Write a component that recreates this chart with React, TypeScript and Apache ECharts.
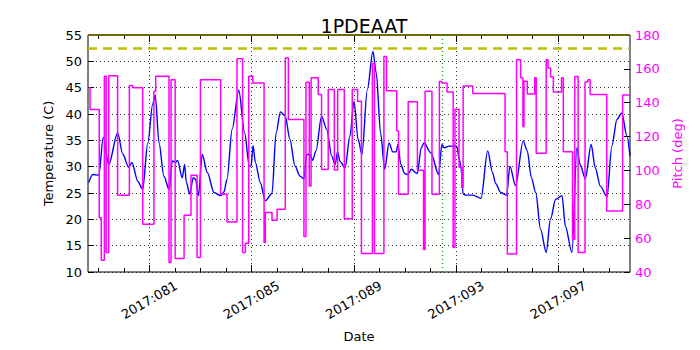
import React, { useEffect, useRef } from "react";
import * as echarts from "echarts";

const FONT = "DejaVu Sans";

// Temperature (blue) — day of year (2017) and degrees C
const tempDays = [78.63, 78.79, 79.02, 79.2, 79.41, 79.76, 79.96, 80.19, 80.32, 80.55, 80.74, 80.94, 81.13, 81.23, 81.38, 81.57, 81.77, 81.9, 82.03, 82.1, 82.29, 82.38, 82.45, 82.58, 82.72, 82.81, 82.92, 83.07, 83.27, 83.53, 83.79, 83.92, 84.04, 84.24, 84.5, 84.73, 84.91, 84.98, 85.06, 85.15, 85.34, 85.54, 85.8, 85.96, 86.13, 86.32, 86.5, 86.7, 86.9, 87.05, 87.16, 87.29, 87.39, 87.52, 87.74, 87.94, 88.14, 88.27, 88.37, 88.46, 88.66, 88.85, 89.01, 89.17, 89.32, 89.53, 89.75, 89.88, 90.05, 90.21, 90.38, 90.53, 90.66, 90.73, 90.84, 90.99, 91.12, 91.25, 91.49, 91.64, 91.75, 92.02, 92.32, 92.45, 92.54, 92.74, 93.03, 93.13, 93.19, 93.28, 93.39, 93.65, 93.98, 94.24, 94.43, 94.55, 94.75, 94.98, 95.11, 95.33, 95.63, 95.79, 95.95, 96.12, 96.31, 96.53, 96.7, 96.9, 97.15, 97.28, 97.54, 97.73, 97.86, 98.06, 98.29, 98.45, 98.65, 98.91, 99.1, 99.3, 99.49, 99.69, 99.81];
const tempValues = [27.0, 28.5, 28.4, 35.6, 30.4, 36.4, 32.4, 29.9, 30.8, 27.2, 25.7, 34.5, 41.8, 43.6, 34.5, 28.2, 25.7, 31.1, 30.8, 31.2, 27.9, 30.4, 27.0, 24.8, 27.9, 27.6, 24.5, 32.3, 28.9, 25.1, 24.5, 25.2, 27.6, 37.1, 44.5, 36.4, 30.1, 30.1, 34.0, 30.8, 27.0, 23.5, 24.9, 36.4, 40.4, 39.6, 35.2, 30.1, 28.2, 27.7, 32.3, 32.3, 31.2, 33.0, 39.6, 37.1, 32.0, 30.4, 32.9, 31.0, 29.8, 35.8, 42.4, 35.2, 32.3, 44.6, 51.9, 47.8, 36.4, 29.5, 34.5, 32.8, 32.8, 34.2, 30.4, 28.7, 28.5, 29.5, 28.7, 33.6, 34.5, 32.6, 28.5, 34.2, 33.6, 33.9, 33.9, 31.4, 30.1, 24.8, 24.6, 24.6, 24.0, 33.0, 28.9, 26.8, 25.1, 24.6, 30.1, 26.4, 34.9, 33.0, 27.9, 25.1, 18.1, 13.7, 20.1, 23.8, 24.5, 18.7, 13.7, 33.6, 30.4, 27.7, 34.2, 29.8, 26.3, 24.3, 33.9, 39.0, 40.2, 35.8, 32.0];

// Pitch (magenta, step) — day of level start and degrees
const pitchDays = [78.63, 78.68, 79.04, 79.12, 79.24, 79.31, 79.41, 79.76, 80.22, 80.35, 80.74, 81.18, 81.25, 81.77, 81.85, 82.01, 82.36, 82.63, 82.87, 83.0, 83.79, 84.04, 84.43, 84.65, 84.76, 84.89, 85.05, 85.49, 85.54, 85.8, 86.0, 86.32, 86.44, 87.05, 87.13, 87.26, 87.33, 87.61, 87.74, 88.0, 88.24, 88.37, 88.63, 88.94, 89.15, 89.3, 89.73, 89.81, 90.18, 90.28, 90.68, 90.75, 91.13, 91.49, 91.73, 91.79, 92.06, 92.35, 92.45, 92.65, 92.89, 92.96, 93.12, 93.23, 93.28, 93.66, 94.92, 95.01, 95.37, 95.53, 95.62, 95.66, 95.79, 96.08, 96.14, 96.53, 96.6, 96.7, 96.81, 97.13, 97.2, 97.56, 97.65, 97.78, 98.05, 98.16, 98.25, 98.9, 99.52, 99.81];
const pitchValues = [148.8, 136.0, 72.1, 47.0, 155.7, 51.5, 156.0, 85.3, 150.1, 148.8, 68.2, 146.8, 155.7, 45.6, 153.6, 48.0, 73.5, 97.1, 48.5, 153.6, 85.9, 69.6, 165.9, 51.5, 57.0, 155.7, 151.7, 57.4, 75.1, 70.5, 77.0, 166.4, 130.1, 60.9, 152.1, 90.8, 154.7, 144.8, 100.6, 147.8, 100.2, 147.8, 71.5, 147.8, 140.9, 50.9, 163.2, 50.9, 167.3, 147.0, 123.4, 86.0, 140.5, 100.1, 53.3, 146.7, 85.9, 152.6, 151.7, 146.4, 54.4, 136.1, 101.9, 89.8, 149.9, 145.5, 111.0, 50.6, 165.4, 154.7, 125.8, 152.7, 145.2, 154.7, 110.1, 165.4, 160.5, 155.2, 146.4, 154.7, 111.0, 59.3, 155.5, 51.5, 152.3, 153.6, 144.9, 76.0, 144.6, 144.6];

const majorDays = [81, 85, 89, 93, 97];
const minorDays = [79, 80, 81, 82, 83, 84, 85, 86, 87, 88, 89, 90, 91, 92, 93, 94, 95, 96, 97, 98, 99];
const markerDay = 92.46;
const tempLimit = 52.5;
const tempTop = 55;

const X_MIN = 78.6;
const X_MAX = 99.81;

const fmtDay = (v: number) => "2017:" + String(Math.round(v)).padStart(3, "0");

export default function App() {
  const ref = useRef<HTMLDivElement>(null);
  useEffect(() => {
    document.body.style.margin = "0";
    if (!ref.current) return;
    const chart = echarts.init(ref.current, undefined, { renderer: "svg" });
    const tempData = tempDays.map((d, i) => [d, tempValues[i]]);
    const pitchData = pitchDays.map((d, i) => [d, pitchValues[i]]);
    const baseX = {
      type: "value",
      min: X_MIN,
      max: X_MAX,
      gridIndex: 0,
      axisLine: { show: false },
      splitLine: { show: false },
    };
    const option: any = {
      animation: false,
      textStyle: { fontFamily: FONT },
      title: {
        text: "1PDEAAT",
        left: 359,
        top: 11,
        textAlign: "center",
        textStyle: { fontFamily: FONT, fontSize: 19, fontWeight: "normal", color: "#000" },
      },
      grid: {
        left: 88,
        right: 70,
        top: 35,
        bottom: 78,
        show: true,
        borderColor: "#000",
        borderWidth: 1,
        backgroundColor: "#fff",
      },
      xAxis: [
        {
          ...baseX,
          position: "bottom",
          axisTick: { show: true, inside: true, length: 7, customValues: majorDays, lineStyle: { color: "#000" } },
          axisLabel: {
            customValues: majorDays,
            formatter: fmtDay,
            rotate: 30,
            align: "center",
            verticalAlign: "middle",
            margin: 28,
            fontSize: 13,
            color: "#000",
            fontFamily: FONT,
          },
          name: "Date",
          nameLocation: "middle",
          nameGap: 58,
          nameTextStyle: { fontSize: 13, color: "#000", fontFamily: FONT },
        },
        {
          ...baseX,
          position: "bottom",
          axisTick: { show: true, inside: true, length: 4, customValues: minorDays, lineStyle: { color: "#000" } },
          axisLabel: { show: false },
        },
        {
          ...baseX,
          position: "top",
          axisTick: { show: true, inside: true, length: 7, customValues: majorDays, lineStyle: { color: "#000" } },
          axisLabel: { show: false },
        },
        {
          ...baseX,
          position: "top",
          axisTick: { show: true, inside: true, length: 4, customValues: minorDays, lineStyle: { color: "#000" } },
          axisLabel: { show: false },
        },
      ],
      yAxis: [
        {
          type: "value",
          min: 10,
          max: 55,
          interval: 5,
          position: "left",
          axisLine: { show: false },
          axisTick: { show: true, inside: true, length: 6, lineStyle: { color: "#000" } },
          axisLabel: { fontSize: 13, color: "#000", margin: 6, fontFamily: FONT },
          splitLine: { show: true, lineStyle: { color: "#000", type: [1, 3], width: 0.8 } },
          name: "Temperature (C)",
          nameLocation: "middle",
          nameGap: 33,
          nameRotate: 90,
          nameTextStyle: { fontSize: 13, color: "#000", fontFamily: FONT },
        },
        {
          type: "value",
          min: 40,
          max: 180,
          interval: 20,
          position: "right",
          axisLine: { show: false },
          axisTick: { show: true, inside: true, length: 6, lineStyle: { color: "#000" } },
          axisLabel: { fontSize: 13, color: "#ff00ff", margin: 5, fontFamily: FONT },
          splitLine: { show: false },
          name: "Pitch (deg)",
          nameLocation: "middle",
          nameGap: 36,
          nameRotate: 90,
          nameTextStyle: { fontSize: 13, color: "#ff00ff", fontFamily: FONT },
        },
      ],
      series: [
        {
          type: "line",
          name: "grid",
          xAxisIndex: 0,
          yAxisIndex: 0,
          data: [],
          silent: true,
          z: 1,
          markLine: {
            silent: true,
            symbol: "none",
            label: { show: false },
            lineStyle: { color: "#000", type: [1, 3], width: 0.8 },
            data: majorDays.map((d) => ({ xAxis: d })),
          },
        },
        {
          type: "line",
          name: "Temperature",
          xAxisIndex: 0,
          yAxisIndex: 0,
          data: tempData,
          showSymbol: false,
          smooth: 0.3,
          smoothMonotone: "x",
          lineStyle: { color: "#0000ff", width: 1.4 },
          itemStyle: { color: "#0000ff" },
          z: 2,
          markLine: {
            silent: true,
            symbol: "none",
            label: { show: false },
            data: [
              { yAxis: tempLimit, lineStyle: { color: "#bfbf00", type: [9, 6], width: 2.5 } },
              { yAxis: tempTop, lineStyle: { color: "#6a6a08", type: "solid", width: 2 } },
            ],
          },
        },
        {
          type: "line",
          name: "Pitch",
          xAxisIndex: 0,
          yAxisIndex: 1,
          data: pitchData,
          step: "end",
          showSymbol: false,
          lineStyle: { color: "#ff00ff", width: 1.5 },
          itemStyle: { color: "#ff00ff" },
          z: 3,
        },
        {
          type: "line",
          name: "marker",
          xAxisIndex: 0,
          yAxisIndex: 0,
          data: [],
          silent: true,
          z: 4,
          markLine: {
            silent: true,
            symbol: "none",
            label: { show: false },
            lineStyle: { color: "#00a000", type: [1, 3], width: 1.3 },
            data: [{ xAxis: markerDay }],
          },
        },
      ],
    };
    chart.setOption(option);
    return () => chart.dispose();
  }, []);
  return <div ref={ref} style={{ width: 700, height: 350 }} />;
}
